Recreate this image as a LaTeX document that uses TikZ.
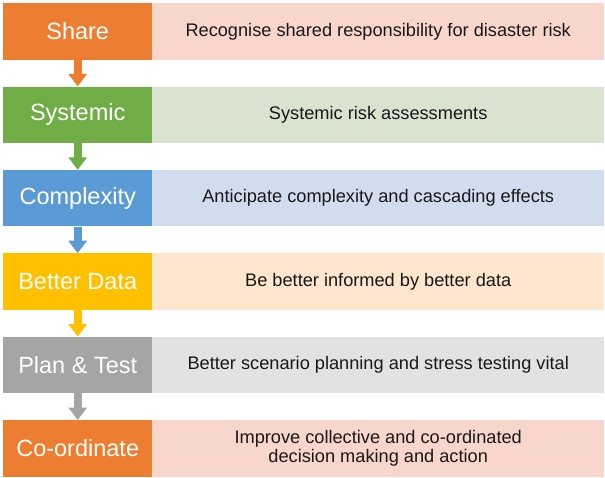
\documentclass[tikz,border=0pt]{standalone}
\usepackage{fontspec}
\setmainfont{Liberation Sans}
\usetikzlibrary{arrows.meta}
\definecolor{cOr}{HTML}{ED7D31}
\definecolor{cGr}{HTML}{70AD47}
\definecolor{cBl}{HTML}{5B9BD5}
\definecolor{cGo}{HTML}{FFC000}
\definecolor{cGy}{HTML}{A5A5A5}
\definecolor{lOr}{HTML}{F8D6CC}
\definecolor{lGr}{HTML}{D9E3CF}
\definecolor{lBl}{HTML}{D1DDEF}
\definecolor{lGo}{HTML}{FDE6CD}
\definecolor{lGy}{HTML}{E2E2E2}
\tikzset{
  leftbox/.style={anchor=north west, minimum width=149pt, minimum height=56.4pt, inner sep=0pt, text=white, font=\fontsize{23.5}{27}\selectfont},
  rightbox/.style={anchor=north west, minimum width=452pt, minimum height=56.4pt, inner sep=0pt, text=black!90, align=center, font=\fontsize{18.2}{19.5}\selectfont},
  flowarrow/.style={line width=8pt, -{Triangle[width=18pt,length=12.5pt]}}
}
\begin{document}
\begin{tikzpicture}[x=1pt,y=-1pt]
\useasboundingbox (0,0) rectangle (605,477);
\fill[white] (0,0) rectangle (605,477);
\node[leftbox, fill=cOr] (L1) at (3,3) {Share};
\node[rightbox, fill=lOr] (R1) at (152,3) {Recognise shared responsibility for disaster risk};
\node[leftbox, fill=cGr] (L2) at (3,86.4) {Systemic};
\node[rightbox, fill=lGr] (R2) at (152,86.4) {Systemic risk assessments};
\node[leftbox, fill=cBl] (L3) at (3,169.8) {Complexity};
\node[rightbox, fill=lBl] (R3) at (152,169.8) {Anticipate complexity and cascading effects};
\node[leftbox, fill=cGo] (L4) at (3,253.2) {Better Data};
\node[rightbox, fill=lGo] (R4) at (152,253.2) {Be better informed by better data};
\node[leftbox, fill=cGy] (L5) at (3,336.6) {Plan \& Test};
\node[rightbox, fill=lGy] (R5) at (152,336.6) {Better scenario planning and stress testing vital};
\node[leftbox, fill=cOr] (L6) at (3,420) {Co-ordinate};
\node[rightbox, fill=lOr] (R6) at (152,420) {Improve collective and co-ordinated\\decision making and action};
\draw[flowarrow, cOr] (L1.south) -- (L2.north);
\draw[flowarrow, cGr] (L2.south) -- (L3.north);
\draw[flowarrow, cBl] (L3.south) -- (L4.north);
\draw[flowarrow, cGo] (L4.south) -- (L5.north);
\draw[flowarrow, cGy] (L5.south) -- (L6.north);
\end{tikzpicture}
\end{document}
